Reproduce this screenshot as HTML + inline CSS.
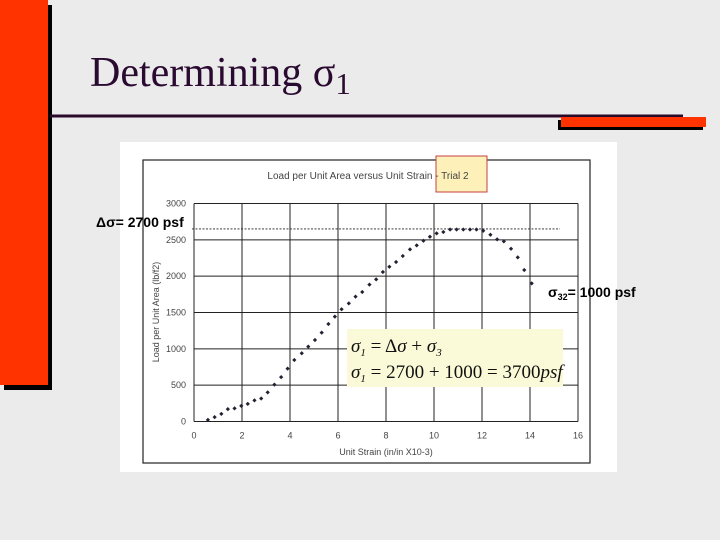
<!DOCTYPE html>
<html><head><meta charset="utf-8"><style>
body{margin:0;width:720px;height:540px;background:#ebebeb;overflow:hidden;font-family:"Liberation Sans",sans-serif}
</style></head><body>
<svg width="720" height="540" style="position:absolute;left:0;top:0">
<rect x="4" y="5" width="48" height="385" fill="#000"/>
<rect x="0" y="0" width="48" height="385" fill="#ff3300"/>
<line x1="50" y1="116" x2="683" y2="116" stroke="#2a0a2a" stroke-width="3"/>
<rect x="558" y="120" width="145" height="10" fill="#000"/>
<rect x="561" y="117" width="145" height="10" fill="#ff3300"/>
<text x="90" y="86" font-family="Liberation Serif,serif" font-size="42" fill="#2a0a30">Determining σ<tspan font-size="31" dy="8">1</tspan></text>
<rect x="120" y="142" width="497" height="330" fill="#fff"/>
<rect x="143" y="160" width="447" height="303" fill="#fff" stroke="#222" stroke-width="1.2"/>
<rect x="436" y="156" width="51" height="36" fill="#fdf0b8" stroke="#c84040"/>
<text x="368" y="179" text-anchor="middle" font-size="10" fill="#444">Load per Unit Area versus Unit Strain - Trial 2</text>
<g id="plot"></g>
<rect x="347" y="329" width="216" height="58" fill="#fafad8"/>
<text x="351" y="352" font-family="Liberation Serif,serif" font-style="italic" font-size="19" fill="#111">σ<tspan font-size="11" dy="4">1</tspan><tspan dy="-4" font-style="normal"> = Δ</tspan>σ<tspan font-style="normal"> + </tspan>σ<tspan font-size="11" dy="4">3</tspan></text>
<text x="351" y="378" font-family="Liberation Serif,serif" font-style="italic" font-size="19" fill="#111">σ<tspan font-size="11" dy="4">1</tspan><tspan dy="-4" font-style="normal"> = 2700 + 1000 = 3700</tspan>psf</text>
<text x="96" y="227" font-size="14" font-weight="bold" fill="#000">Δσ= 2700 psf</text>
<text x="548" y="297" font-size="14" font-weight="bold" fill="#000">σ<tspan font-size="9" dy="3">32</tspan><tspan dy="-3">= 1000 psf</tspan></text>
</svg>
<script>
const strain=[0.58,0.86,1.14,1.41,1.69,1.97,2.24,2.52,2.8,3.07,3.35,3.63,3.9,4.18,4.49,4.76,5.04,5.32,5.6,5.87,6.15,6.45,6.73,7.01,7.31,7.59,7.87,8.14,8.42,8.7,9.0,9.28,9.56,9.83,10.11,10.39,10.67,10.94,11.22,11.5,11.77,12.05,12.35,12.63,12.91,13.21,13.49,13.76,14.07];
const load=[23,60,105,170,180,215,243,290,316,400,508,610,728,847,940,1030,1122,1223,1342,1443,1544,1626,1718,1782,1883,1956,2057,2130,2195,2277,2369,2424,2488,2543,2589,2607,2643,2643,2643,2643,2643,2625,2570,2506,2479,2378,2259,2085,1901];
const xTicks=[0,2,4,6,8,10,12,14,16];
const yTicks=[0,500,1000,1500,2000,2500,3000];
const peakLoad=[2650];
const NS="http://www.w3.org/2000/svg";
const X0=194,X1=578,Y0=421.5,Y1=203.5;
const sx=v=>X0+(v-0)/16*(X1-X0);
const sy=v=>Y0-(v/3000)*(Y0-Y1);
const g=document.getElementById('plot');
function mk(t,a){const e=document.createElementNS(NS,t);for(const k in a)e.setAttribute(k,a[k]);g.appendChild(e);return e;}
yTicks.forEach(v=>{
  const l=mk('line',{x1:X0,x2:X1,y1:sy(v),y2:sy(v),stroke:'#222','stroke-width':1});
  
  
  const t=mk('text',{x:X0-8,y:sy(v)+3,'text-anchor':'end','font-size':9,fill:'#444'});
  t.textContent=v;
  
  
});
xTicks.forEach(v=>{
  const l=mk('line',{x1:sx(v),x2:sx(v),y1:Y1,y2:Y0,stroke:'#222','stroke-width':1});
  
  
  const t=mk('text',{x:sx(v),y:Y0+17,'text-anchor':'middle','font-size':9,fill:'#444'});
  t.textContent=v;
  
  
});
const xt=mk('text',{x:(X0+X1)/2,y:455,'text-anchor':'middle','font-size':9,fill:'#444'});
xt.textContent='Unit Strain (in/in X10-3)';


const yt=mk('text',{x:0,y:0,'text-anchor':'middle','font-size':9,fill:'#444',transform:'translate(159,312) rotate(-90)'});
yt.textContent='Load per Unit Area (lb/f2)';


const pk=mk('line',{x1:192,x2:560,y1:sy(peakLoad[0]),y2:sy(peakLoad[0]),stroke:'#222','stroke-width':0.8,'stroke-dasharray':'2,1.5'});


strain.forEach((s,i)=>{
  const c=mk('rect',{x:sx(s)-1.5,y:sy(load[i])-1.5,width:3,height:3,fill:'#223',transform:'rotate(45 '+sx(s)+' '+sy(load[i])+')'});
  
  
});
</script>
</body></html>
